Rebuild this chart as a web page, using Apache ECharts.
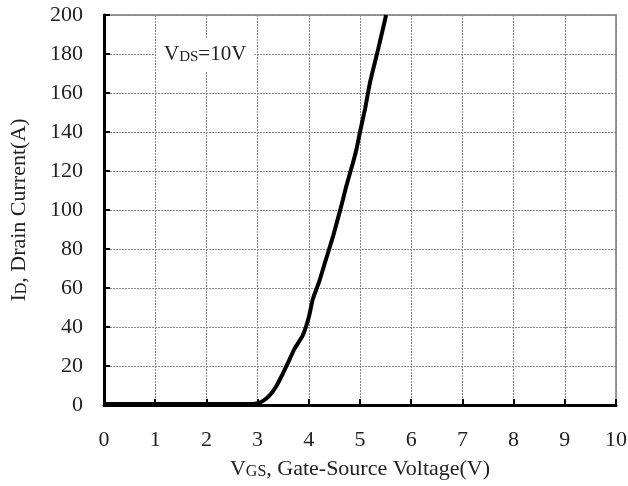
<!DOCTYPE html>
<html><head><meta charset="utf-8">
<script src="https://cdn.jsdelivr.net/npm/echarts@6/dist/echarts.min.js"></script>
<style>html,body{margin:0;padding:0;background:#fff}#c{width:628px;height:486px}</style>
</head><body><div id="c"></div>
<script>
const vgs = [0, 1, 2, 2.9, 3.0, 3.1, 3.23, 3.35, 3.49, 3.6, 3.72, 3.88, 4.0, 4.08, 4.2, 4.31, 4.47, 4.63, 4.73, 4.80, 4.86, 4.93, 5.0, 5.1, 5.2, 5.35, 5.51];
const id  = [0.5, 0.5, 0.5, 0.5, 0.9, 2, 4.8, 9, 15.9, 22, 28.8, 35.6, 45, 54.5, 63, 72.5, 86.2, 101.6, 112, 118.5, 124, 131, 140, 152, 166, 182, 200];
const xTicks = [0,1,2,3,4,5,6,7,8,9,10];
const yTicks = [0,20,40,60,80,100,120,140,160,180,200];

const FONT = '"Liberation Serif", "DejaVu Serif", serif';
const chart = echarts.init(document.getElementById('c'));
chart.setOption({
  backgroundColor: '#fff',
  animation: false,
  grid: { left: 104, right: 12, top: 15, bottom: 81, outerBoundsMode: 'none', containLabel: false,
    show: true, borderColor: '#999', borderWidth: 2, backgroundColor: 'transparent' },
  title: {
    text: '{a|V}{b|DS}{a|=10V}',
    left: 156, top: 36,
    backgroundColor: '#fff',
    padding: [6, 8, 6, 8],
    textStyle: {
      fontWeight: 'normal',
      rich: {
        a: { fontFamily: FONT, fontSize: 21, fontWeight: 'normal', color: '#222', verticalAlign: 'bottom', lineHeight: 23 },
        b: { fontFamily: FONT, fontSize: 15, fontWeight: 'normal', color: '#222', verticalAlign: 'bottom', lineHeight: 20 }
      }
    }
  },
  xAxis: {
    type: 'value', min: 0, max: 10, interval: 1,
    name: '{a|V}{b|GS}{a|, Gate-Source Voltage(V)}',
    nameLocation: 'middle', nameGap: 51,
    nameTextStyle: {
      rich: {
        a: { fontFamily: FONT, fontSize: 22, color: '#222', verticalAlign: 'bottom', lineHeight: 24 },
        b: { fontFamily: FONT, fontSize: 16, color: '#222', verticalAlign: 'bottom', lineHeight: 21 }
      }
    },
    axisLine: { show: true, onZero: false, lineStyle: { color: '#000', width: 3 } },
    axisTick: { show: true, inside: true, length: 6, lineStyle: { color: '#000', width: 2 } },
    axisLabel: { fontFamily: FONT, fontSize: 22, color: '#222', margin: 24,
      formatter: v => xTicks.includes(v) ? String(v) : '' },
    splitLine: { show: true, lineStyle: { color: '#888', width: 1, type: [2, 1] } }
  },
  yAxis: {
    type: 'value', min: 0, max: 200, interval: 20,
    name: '{a|I}{b|D}{a|, Drain Current(A)}',
    nameLocation: 'middle', nameGap: 74, nameRotate: 90,
    nameTextStyle: {
      rich: {
        a: { fontFamily: FONT, fontSize: 22, color: '#222', verticalAlign: 'bottom', lineHeight: 24 },
        b: { fontFamily: FONT, fontSize: 16, color: '#222', verticalAlign: 'bottom', lineHeight: 21 }
      }
    },
    axisLine: { show: true, onZero: false, lineStyle: { color: '#000', width: 3 } },
    axisTick: { show: true, inside: true, length: 6, lineStyle: { color: '#000', width: 2 } },
    axisLabel: { fontFamily: FONT, fontSize: 22, color: '#222', margin: 21,
      formatter: v => yTicks.includes(v) ? String(v) : '' },
    splitLine: { show: true, lineStyle: { color: '#888', width: 1, type: [2, 1] } }
  },
  series: [{
    type: 'line',
    data: vgs.map((v, i) => [v, id[i]]),
    showSymbol: false,
    smooth: 0.15,
    clip: true,
    lineStyle: { color: '#000', width: 4 },
    z: 5
  }]
});
</script>
</body></html>
